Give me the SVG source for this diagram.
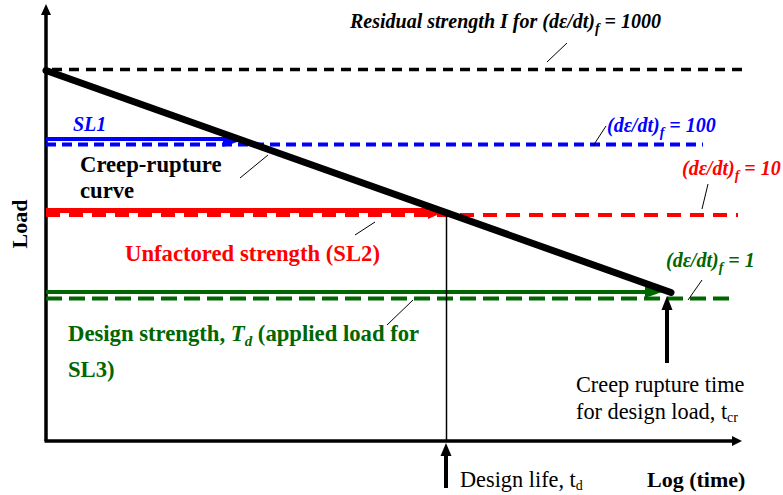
<svg xmlns="http://www.w3.org/2000/svg" width="783" height="495" viewBox="0 0 783 495">
<style>
text{font-family:'Liberation Serif','Tinos','Times New Roman','DejaVu Serif',serif;}
.b{font-weight:bold;}
.bi{font-weight:bold;font-style:italic;}
.lead{stroke:#000;stroke-width:1;fill:none;}
.blue{fill:#0000FF;}
.red{fill:#FF0000;}
.grn{fill:#006600;}
</style>
<g id="axes">
<line x1="46" y1="441" x2="46" y2="14" stroke="#000" stroke-width="3.5"/>
<path d="M41,15 L46,4 L51,15 Z" fill="#000"/>
<line x1="44.5" y1="441" x2="733" y2="441" stroke="#000" stroke-width="3.5"/>
<path d="M732,436 L742,441 L732,446 Z" fill="#000"/>
<text class="b" font-size="22" transform="translate(27,224) rotate(-90)" text-anchor="middle">Load</text>
<text class="b" font-size="22" x="647" y="487">Log (time)</text>
</g>
<g id="connectors">
<line x1="52" y1="69.5" x2="742" y2="69.5" stroke="#000" stroke-width="3.5" stroke-dasharray="10,7"/>
<line x1="46" y1="144.5" x2="703" y2="144.5" stroke="#0000FF" stroke-width="4" stroke-dasharray="10,6"/>
<line x1="46" y1="139" x2="226" y2="139" stroke="#0000FF" stroke-width="4"/>
<path d="M223,131 L244,139.5 L223,147 Z" fill="#0000FF"/>
<line x1="46" y1="215" x2="738" y2="215" stroke="#FF0000" stroke-width="4" stroke-dasharray="14,9"/>
<line x1="46" y1="210.5" x2="430" y2="210.5" stroke="#FF0000" stroke-width="5"/>
<path d="M428,203 L446,211 L428,219 Z" fill="#FF0000"/>
<line x1="46" y1="298.5" x2="730" y2="298.5" stroke="#006600" stroke-width="4" stroke-dasharray="16,7"/>
<line x1="46" y1="292" x2="648" y2="292" stroke="#006600" stroke-width="4"/>
<path d="M645,286 L662,292 L645,298 Z" fill="#006600"/>
<line x1="446.5" y1="212" x2="446.5" y2="441" stroke="#000" stroke-width="1.5"/>
<line x1="46" y1="70.5" x2="671" y2="292.5" stroke="#000" stroke-width="7" stroke-linecap="round"/>
<line x1="446" y1="488" x2="446" y2="450" stroke="#000" stroke-width="4"/>
<path d="M440.5,456 L446,443 L451.5,456 Z" fill="#000"/>
<line x1="667" y1="363" x2="667" y2="305" stroke="#000" stroke-width="4"/>
<path d="M661.5,310 L667,296 L672.5,310 Z" fill="#000"/>
<line class="lead" x1="547" y1="62" x2="567" y2="43"/>
<line class="lead" x1="593" y1="146" x2="606" y2="126"/>
<line class="lead" x1="702" y1="209" x2="708" y2="184"/>
<line class="lead" x1="240" y1="178" x2="268" y2="155"/>
<line class="lead" x1="355" y1="235" x2="375" y2="222"/>
<line class="lead" x1="387" y1="325" x2="413" y2="300"/>
<line class="lead" x1="688" y1="300" x2="702" y2="280"/>
</g>
<g id="label-residual">
<text class="bi" font-size="20" x="350" y="28">Residual strength I for (dε/dt)<tspan font-size="14" dy="5">f</tspan><tspan dy="-5"> = 1000</tspan></text>
</g>
<g id="label-sl1">
<text class="bi blue" font-size="20" x="73" y="131">SL1</text>
<text class="bi blue" font-size="20" x="607" y="132">(dε/dt)<tspan font-size="14" dy="5">f</tspan><tspan dy="-5"> = 100</tspan></text>
</g>
<g id="label-creep">
<text class="b" font-size="22.7" x="80" y="172">Creep-rupture</text>
<text class="b" font-size="22.7" x="80" y="198">curve</text>
</g>
<g id="label-sl2">
<text class="bi red" font-size="20" x="682" y="175">(dε/dt)<tspan font-size="14" dy="5">f</tspan><tspan dy="-5"> = 10</tspan></text>
<text class="b red" font-size="22.7" x="125" y="261">Unfactored strength (SL2)</text>
</g>
<g id="label-sl3">
<text class="bi grn" font-size="20" x="666" y="267">(dε/dt)<tspan font-size="14" dy="5">f</tspan><tspan dy="-5"> = 1</tspan></text>
<text class="b grn" font-size="22.7" x="68" y="341">Design strength, <tspan font-style="italic">T</tspan><tspan font-style="italic" font-size="15" dy="5">d</tspan><tspan dy="-5"> (applied load for</tspan></text>
<text class="b grn" font-size="22.7" x="68" y="377">SL3)</text>
</g>
<g id="label-times">
<text font-size="22.3" x="576" y="392">Creep rupture time</text>
<text font-size="22.3" x="576" y="419">for design load, t<tspan font-size="14" dy="3">cr</tspan></text>
<text font-size="22.3" x="460" y="487">Design life, t<tspan font-size="14" dy="3">d</tspan></text>
</g>
</svg>
